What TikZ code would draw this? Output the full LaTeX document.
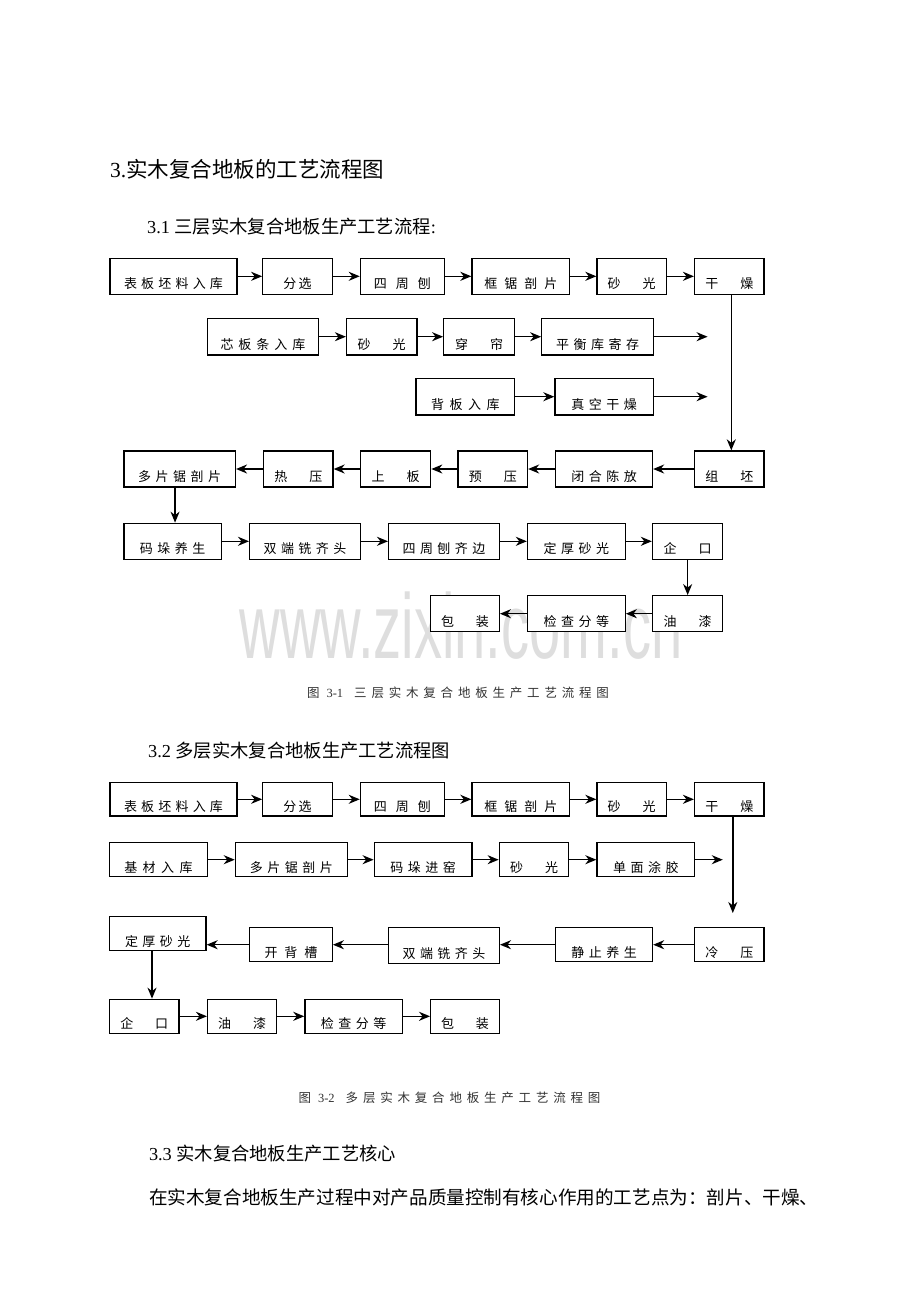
\documentclass[tikz,border=0pt]{standalone}
\usepackage{fontspec}
\setmainfont{Liberation Serif}
\newfontfamily\cjk{Noto Sans CJK SC}
\newfontfamily\wmfont{Liberation Sans}
\usetikzlibrary{arrows.meta}

\makeatletter
\def\spcEnd{\spcEnd@marker}
\newdimen\spcgap \spcgap=5pt
\def\spc#1{\spcA#1\spcEnd}
\def\spcA#1{\ifx#1\spcEnd\else#1\expandafter\spcB\fi}
\def\spcB#1{\ifx#1\spcEnd\else\kern\spcgap#1\expandafter\spcB\fi}
\makeatother
\newcommand\bt[2][4.5pt]{\spcgap=#1\relax\raisebox{-12.5pt}[0pt][0pt]{\spc{#2}}}

\tikzset{
  box/.style={draw, line width=1.3pt, fill=white, inner sep=0pt,
    minimum height=36pt, font=\cjk\fontsize{13}{14}\selectfont},
  arr/.style={line width=1.5pt, -{Stealth[length=11pt,width=9pt,inset=3.5pt]}},
  head/.style={anchor=base west, inner sep=0pt},
  capt/.style={anchor=base, inner sep=0pt, text=black!80,
    font=\cjk\fontsize{12.5}{14}\selectfont}
}

\begin{document}
\begin{tikzpicture}[x=1pt,y=-1pt]
\useasboundingbox[fill=white] (0,0) rectangle (920,1302);

% watermark
\node[anchor=base, inner sep=0pt, text=black!13, xscale=0.61,
  font=\wmfont\fontsize{92}{92}\selectfont] (wm) at (461,658) {www.zixin.com.cn};

% headings
\node[head, font=\fontsize{21.5}{24}\selectfont] (h0) at (110,177) {3.{\cjk 实木复合地板的工艺流程图}};
\node[head, font=\fontsize{18.3}{20}\selectfont] (h1) at (147,233.5) {3.1 {\cjk 三层实木复合地板生产工艺流程}:};
\node[head, font=\fontsize{18.3}{20}\selectfont] (h2) at (148,757.5) {3.2 {\cjk 多层实木复合地板生产工艺流程图}};
\node[head, font=\fontsize{18.3}{20}\selectfont] (h3) at (148.8,1160) {3.3 {\cjk 实木复合地板生产工艺核心}};
\node[head, font=\cjk\fontsize{18.6}{20}\selectfont] (body) at (148.8,1204) {在实木复合地板生产过程中对产品质量控制有核心作用的工艺点为：剖片、干燥、};

% ===== Diagram 1 =====
\node[box, minimum width=127pt]  (a1) at (173.5,276.3) {\bt[4.2pt]{表板坯料入库}};
\node[box, minimum width=69.4pt] (a2) at (297.5,276.3) {\bt[2.5pt]{分选}};
\node[box, minimum width=83.8pt] (a3) at (402.3,276.3) {\bt[9pt]{四周刨}};
\node[box, minimum width=97.6pt] (a4) at (520.8,276.3) {\bt[7pt]{框锯剖片}};
\node[box, minimum width=69.4pt] (a5) at (631.7,276.3) {\bt{砂\quad 光}};
\node[box, minimum width=69.4pt] (a6) at (729.3,276.3) {\bt{干\quad 燥}};

\node[box, minimum width=110.7pt, minimum height=36.7pt] (b1) at (263,336.7) {\bt[5pt]{芯板条入库}};
\node[box, minimum width=70.3pt, minimum height=36.7pt]  (b2) at (381.7,336.7) {\bt{砂\quad 光}};
\node[box, minimum width=70.7pt, minimum height=36.7pt]  (b3) at (479.1,336.7) {\bt{穿\quad 帘}};
\node[box, minimum width=111.6pt, minimum height=36.7pt] (b4) at (597.6,336.7) {\bt{平衡库寄存}};
\coordinate (b5) at (707.6,336.7);

\node[box, minimum width=98.5pt, minimum height=36.7pt] (c1) at (465.25,396.7) {\bt[5.5pt]{背板入库}};
\node[box, minimum width=98.5pt, minimum height=36.7pt] (c2) at (604.2,396.7) {\bt{真空干燥}};
\coordinate (c3) at (707.6,396.7);

\node[box, minimum width=69.4pt]  (d1) at (729.3,469) {\bt{组\quad 坯}};
\node[box, minimum width=96.8pt]  (d2) at (604.1,469) {\bt{闭合陈放}};
\node[box, minimum width=69.5pt]  (d3) at (492.75,469) {\bt{预\quad 压}};
\node[box, minimum width=70.3pt]  (d4) at (395.55,469) {\bt{上\quad 板}};
\node[box, minimum width=69.4pt]  (d5) at (298.3,469) {\bt{热\quad 压}};
\node[box, minimum width=111.5pt] (d6) at (179.65,469) {\bt{多片锯剖片}};

\node[box, minimum width=97.6pt]  (e1) at (172.7,541.3) {\bt{码垛养生}};
\node[box, minimum width=110.7pt] (e2) at (305,541.3) {\bt{双端铣齐头}};
\node[box, minimum width=110.7pt] (e3) at (444,541.3) {\bt{四周刨齐边}};
\node[box, minimum width=97.7pt]  (e4) at (576.35,541.3) {\bt{定厚砂光}};
\node[box, minimum width=70.3pt]  (e5) at (687.65,541.3) {\bt{企\quad 口}};

\node[box, minimum width=70.3pt] (f1) at (687.65,613.7) {\bt{油\quad 漆}};
\node[box, minimum width=97.7pt] (f2) at (576.35,613.7) {\bt{检查分等}};
\node[box, minimum width=68.6pt] (f3) at (465,613.7) {\bt{包\quad 装}};

\draw[arr] (a1.east) -- (a2.west);
\draw[arr] (a2.east) -- (a3.west);
\draw[arr] (a3.east) -- (a4.west);
\draw[arr] (a4.east) -- (a5.west);
\draw[arr] (a5.east) -- (a6.west);
\draw[arr] (b1.east) -- (b2.west);
\draw[arr] (b2.east) -- (b3.west);
\draw[arr] (b3.east) -- (b4.west);
\draw[arr] (b4.east) -- (b5);
\draw[arr] (c1.east) -- (c2.west);
\draw[arr] (c2.east) -- (c3);
\draw[arr] ([xshift=2pt]a6.south) -- ([xshift=2pt]d1.north);
\draw[arr] (d1.west) -- (d2.east);
\draw[arr] (d2.west) -- (d3.east);
\draw[arr] (d3.west) -- (d4.east);
\draw[arr] (d4.west) -- (d5.east);
\draw[arr] (d5.west) -- (d6.east);
\draw[arr] ([xshift=-4.6pt]d6.south) -- ([xshift=-4.6pt]d6.south |- e1.north);
\draw[arr] (e1.east) -- (e2.west);
\draw[arr] (e2.east) -- (e3.west);
\draw[arr] (e3.east) -- (e4.west);
\draw[arr] (e4.east) -- (e5.west);
\draw[arr] (e5.south) -- (f1.north);
\draw[arr] (f1.west) -- (f2.east);
\draw[arr] (f2.west) -- (f3.east);

\node[capt] (cap1) at (458,697.7) {\spcgap=4.8pt 图\kern7pt{\rmfamily 3-1}\kern11pt\spc{三层实木复合地板生产工艺流程图}};

% ===== Diagram 2 =====
\node[box, minimum width=127pt, minimum height=33.5pt]  (g1) at (173.5,799.3) {\bt[4.2pt]{表板坯料入库}};
\node[box, minimum width=69.4pt, minimum height=33.5pt] (g2) at (297.5,799.3) {\bt[2.5pt]{分选}};
\node[box, minimum width=83.8pt, minimum height=33.5pt] (g3) at (402.3,799.3) {\bt[9pt]{四周刨}};
\node[box, minimum width=97.6pt, minimum height=33.5pt] (g4) at (520.8,799.3) {\bt[7pt]{框锯剖片}};
\node[box, minimum width=69.4pt, minimum height=33.5pt] (g5) at (631.7,799.3) {\bt{砂\quad 光}};
\node[box, minimum width=69.4pt, minimum height=33.5pt] (g6) at (729.3,799.3) {\bt{干\quad 燥}};
\coordinate (g7) at (732.8,913);

\node[box, minimum width=98pt, minimum height=34pt]    (k1) at (158.5,859.7) {\bt[5.5pt]{基材入库}};
\node[box, minimum width=112pt, minimum height=34pt]   (k2) at (291.4,859.7) {\bt{多片锯剖片}};
\node[box, minimum width=97.7pt, minimum height=34pt]  (k3) at (423.1,859.7) {\bt{码垛进窑}};
\node[box, minimum width=69.4pt, minimum height=34pt]  (k4) at (534,859.7) {\bt{砂\quad 光}};
\node[box, minimum width=97.6pt, minimum height=34pt]  (k5) at (645.8,859.7) {\bt{单面涂胶}};
\coordinate (k6) at (722.8,859.7);

\node[box, minimum width=69.4pt, minimum height=34pt]    (i1) at (729.3,944.7) {\bt{冷\quad 压}};
\node[box, minimum width=96.8pt, minimum height=34pt]    (i2) at (604.1,944.7) {\bt{静止养生}};
\node[box, minimum width=110.7pt, minimum height=35.6pt] (i3) at (444,945.5) {\bt{双端铣齐头}};
\node[box, minimum width=82.5pt, minimum height=34pt]    (i4) at (291,944.7) {\bt[7pt]{开背槽}};
\node[box, minimum width=96.5pt, minimum height=34pt]    (i5) at (157.75,933.7) {\bt{定厚砂光}};

\node[box, minimum width=69.5pt, minimum height=34pt] (j1) at (144.25,1016.3) {\bt{企\quad 口}};
\node[box, minimum width=69pt, minimum height=34pt]   (j2) at (242.1,1016.3) {\bt{油\quad 漆}};
\node[box, minimum width=97.6pt, minimum height=34pt] (j3) at (353.7,1016.3) {\bt{检查分等}};
\node[box, minimum width=68.6pt, minimum height=34pt] (j4) at (465,1016.3) {\bt{包\quad 装}};

\draw[arr] (g1.east) -- (g2.west);
\draw[arr] (g2.east) -- (g3.west);
\draw[arr] (g3.east) -- (g4.west);
\draw[arr] (g4.east) -- (g5.west);
\draw[arr] (g5.east) -- (g6.west);
\draw[arr] (g6.south -| g7) -- (g7);
\draw[arr] (k1.east) -- (k2.west);
\draw[arr] (k2.east) -- (k3.west);
\draw[arr] (k3.east) -- (k4.west);
\draw[arr] (k4.east) -- (k5.west);
\draw[arr] (k5.east) -- (k6);
\draw[arr] (i1.west) -- (i2.east);
\draw[arr] (i2.west) -- (i3.east |- i2.west);
\draw[arr] (i3.west |- i4.west) -- (i4.east);
\draw[arr] (i4.west) -- (i5.east |- i4.west);
\draw[arr] ([xshift=-5.75pt]i5.south) -- ([xshift=-5.75pt]i5.south |- j1.north);
\draw[arr] (j1.east) -- (j2.west);
\draw[arr] (j2.east) -- (j3.west);
\draw[arr] (j3.east) -- (j4.west);

\node[capt] (cap2) at (449.5,1102.5) {\spcgap=4.8pt 图\kern7pt{\rmfamily 3-2}\kern11pt\spc{多层实木复合地板生产工艺流程图}};
\end{tikzpicture}
\end{document}
